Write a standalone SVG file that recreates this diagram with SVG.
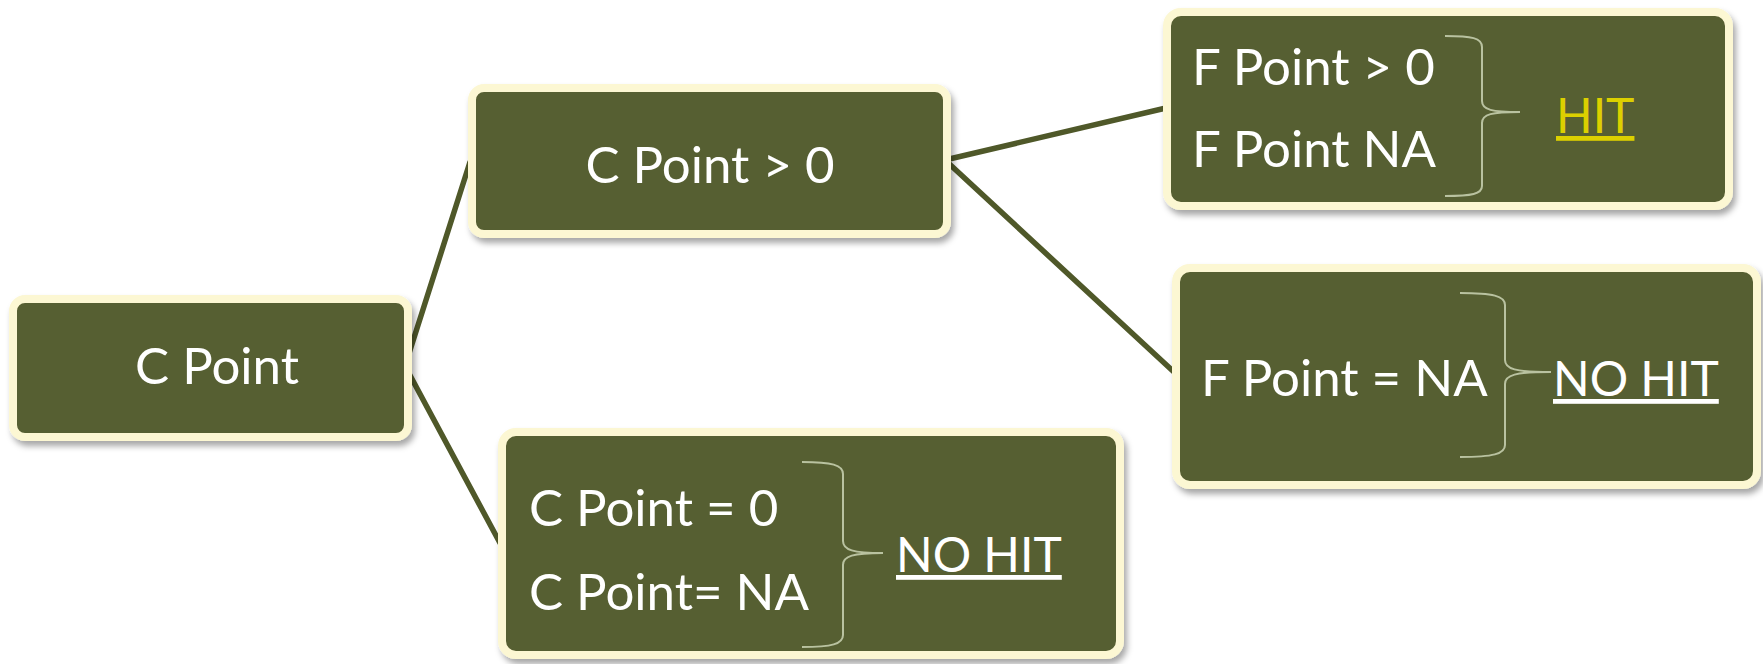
<svg xmlns="http://www.w3.org/2000/svg" width="1763" height="664" viewBox="0 0 1763 664">
  <style>
    .box { fill: #565E32; stroke: #FCF7D3; stroke-width: 8; filter: url(#shadow); }
    .lbl { font-family: Lato, "Open Sans", "DejaVu Sans", sans-serif; font-size: 51px; fill: #FFFFFF; }
    .mid { text-anchor: middle; }
    .result { font-size: 48px; text-decoration: underline; }
    .hit { fill: #DCD000; }
    .brace { fill: none; stroke: #B9C2A0; stroke-width: 2; }
    .edge { fill: none; stroke: #4F5829; stroke-width: 5.5; stroke-linecap: round; }
  </style>
  <defs>
    <filter id="shadow" x="-10%" y="-10%" width="125%" height="130%">
      <feDropShadow dx="3" dy="5" stdDeviation="3" flood-color="#000000" flood-opacity="0.35"/>
    </filter>
  </defs>

  <rect width="1763" height="664" fill="#FFFFFF"/>

  <!-- connectors (drawn under the boxes) -->
  <g id="connectors">
    <line class="edge" x1="405" y1="366" x2="470" y2="162"/>
    <line class="edge" x1="405" y1="366" x2="500" y2="543"/>
    <line class="edge" x1="945" y1="160" x2="1166" y2="108"/>
    <line class="edge" x1="945" y1="160" x2="1174" y2="372"/>
  </g>

  <!-- root -->
  <g id="c-point">
    <rect class="box" x="13" y="299" width="395" height="138" rx="12"/>
    <text class="lbl mid" x="217" y="384">C Point</text>
  </g>

  <!-- C Point > 0 -->
  <g id="c-point-positive">
    <rect class="box" x="472" y="88" width="475" height="146" rx="12"/>
    <text class="lbl mid" x="710" y="183">C Point &gt; 0</text>
  </g>

  <!-- F Point > 0 / NA : HIT -->
  <g id="hit-case">
    <rect class="box" x="1167" y="12" width="562" height="194" rx="14"/>
    <text class="lbl" x="1192" y="85">F Point &gt; 0</text>
    <text class="lbl" x="1192" y="167">F Point NA</text>
    <path class="brace" d="M1445,36 C1472,36 1482,38 1482,47 L1482,101 C1482,110 1492,112 1520,112 C1492,112 1482,114 1482,123 L1482,186 C1482,194 1472,196 1445,196"/>
    <text class="lbl result hit" x="1556" y="133">HIT</text>
  </g>

  <!-- F Point = NA : NO HIT -->
  <g id="f-point-na">
    <rect class="box" x="1176" y="268" width="581" height="217" rx="14"/>
    <text class="lbl" x="1201" y="396">F Point = NA</text>
    <path class="brace" d="M1460,293 C1493,293 1505,296 1505,305 L1505,360 C1505,369 1515,372 1551,372 C1515,372 1505,375 1505,384 L1505,445 C1505,454 1493,457 1460,457"/>
    <text class="lbl result" x="1553" y="396">NO HIT</text>
  </g>

  <!-- C Point = 0 / NA : NO HIT -->
  <g id="c-point-zero">
    <rect class="box" x="502" y="432" width="618" height="223" rx="14"/>
    <text class="lbl" x="529" y="526">C Point = 0</text>
    <text class="lbl" x="529" y="610">C Point= NA</text>
    <path class="brace" d="M802,462 C832,462 843,465 843,474 L843,541 C843,550 853,553 883,553 C853,553 843,556 843,565 L843,635 C843,644 832,647 802,647"/>
    <text class="lbl result" x="896" y="572">NO HIT</text>
  </g>
</svg>
